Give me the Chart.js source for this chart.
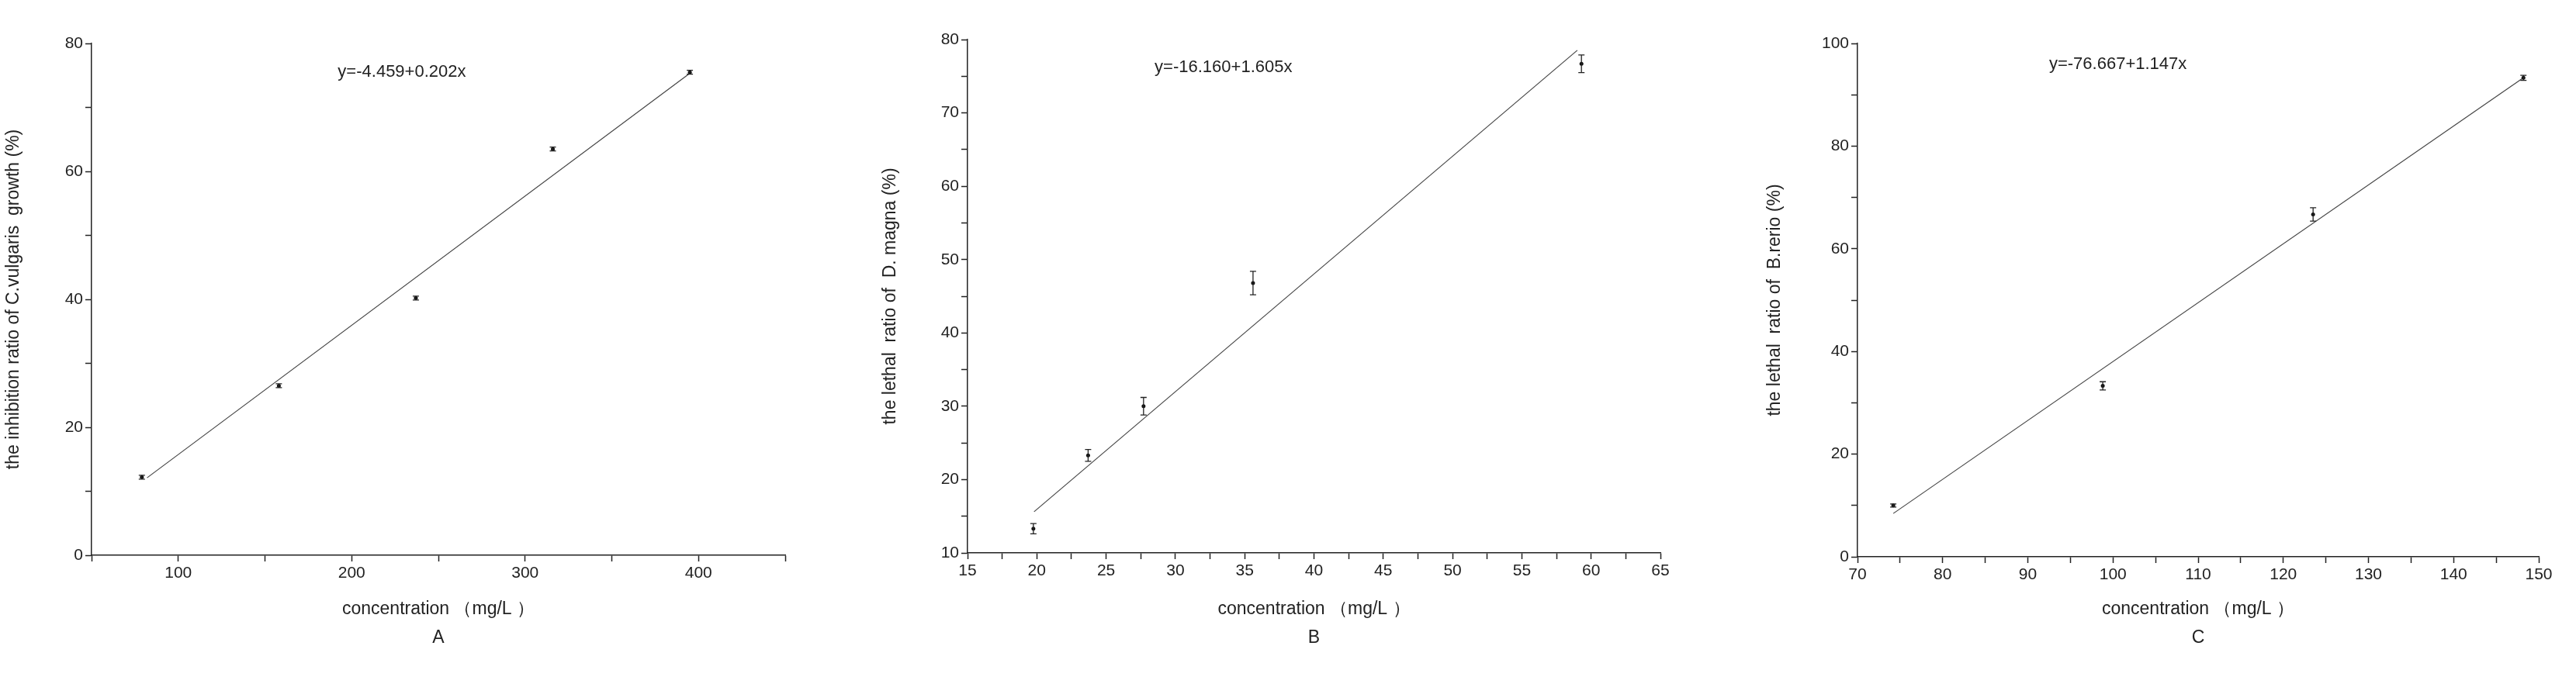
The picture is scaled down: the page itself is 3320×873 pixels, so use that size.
<!DOCTYPE html>
<html>
<head>
<meta charset="utf-8">
<script src="https://cdn.jsdelivr.net/npm/chart.js@4.4.1/dist/chart.umd.min.js"></script>
<style>
  body { margin: 0; background: #fff; width: 3320px; height: 873px; position: relative; overflow: hidden; }
  .panel { position: absolute; top: 0; height: 873px; }
</style>
</head>
<body>
<div class="panel" style="left:0;width:1030px"><canvas id="chartA"></canvas></div>
<div class="panel" style="left:1130px;width:1030px"><canvas id="chartB"></canvas></div>
<div class="panel" style="left:2270px;width:1030px"><canvas id="chartC"></canvas></div>
<script>
// ---------- DATA ----------
const concA  = [79, 158, 237, 316, 395];
const valueA = [12.2, 26.5, 40.2, 63.5, 75.5];
const errA   = [0.3, 0.3, 0.3, 0.3, 0.3];
const fitA   = { a: -4.459, b: 0.202, from: 82, to: 395 };
const eqA    = 'y=-4.459+0.202x';

const concB  = [19.75, 23.7, 27.7, 35.6, 59.3];
const valueB = [13.3, 23.3, 30.0, 46.8, 76.7];
const errB   = [0.7, 0.8, 1.2, 1.6, 1.2];
const fitB   = { a: -16.160, b: 1.605, from: 19.8, to: 59.0 };
const eqB    = 'y=-16.160+1.605x';

const concC  = [74.2, 98.8, 123.5, 148.2];
const valueC = [10.0, 33.3, 66.7, 93.3];
const errC   = [0.3, 0.8, 1.3, 0.5];
const fitC   = { a: -76.667, b: 1.147, from: 74.2, to: 148.2 };
const eqC    = 'y=-76.667+1.147x';

const FONT = 'Arial, "Liberation Sans", sans-serif';

// ---------- PLUGINS ----------
const errorBars = {
    id: 'errorBars',
    afterDatasetsDraw(chart, args, opts) {
        const { ctx, scales: { x, y } } = chart;
        const pts = chart.data.datasets[0].data;
        ctx.save();
        ctx.strokeStyle = '#222';
        ctx.lineWidth = 1.3;
        pts.forEach((p, i) => {
            const e = opts.errors[i];
            const px = x.getPixelForValue(p.x);
            const top = y.getPixelForValue(p.y + e);
            const bot = y.getPixelForValue(p.y - e);
            ctx.beginPath();
            ctx.moveTo(px, top); ctx.lineTo(px, bot);
            ctx.moveTo(px - 4, top); ctx.lineTo(px + 4, top);
            ctx.moveTo(px - 4, bot); ctx.lineTo(px + 4, bot);
            ctx.stroke();
        });
        ctx.restore();
    }
};

const equationLabel = {
    id: 'equationLabel',
    afterDraw(chart, args, opts) {
        const { ctx, scales: { x, y } } = chart;
        ctx.save();
        ctx.fillStyle = '#222';
        ctx.font = '22px ' + FONT;
        ctx.textAlign = 'left';
        ctx.textBaseline = 'middle';
        ctx.fillText(opts.text, x.getPixelForValue(opts.x), y.getPixelForValue(opts.y));
        ctx.restore();
    }
};

// ---------- BUILDER ----------
function makeChart(id, conc, values, errs, fit, eq, cfg) {
    const pts = conc.map((c, i) => ({ x: c, y: values[i] }));
    const line = [
        { x: fit.from, y: fit.a + fit.b * fit.from },
        { x: fit.to,   y: fit.a + fit.b * fit.to }
    ];
    const axisCommon = {
        border: { color: '#222', width: 1.5 },
        grid: { drawOnChartArea: false, color: '#222', tickLength: 8, tickWidth: 1.5 },
    };
    return new Chart(document.getElementById(id), {
        type: 'scatter',
        data: {
            datasets: [
                { data: pts, pointRadius: 2.5, pointBackgroundColor: '#111', pointBorderWidth: 0 },
                { data: line, type: 'line', showLine: true, borderColor: '#444', borderWidth: 1.2, pointRadius: 0 }
            ]
        },
        options: {
            responsive: true,
            maintainAspectRatio: false,
            animation: false,
            layout: { padding: { top: cfg.top, right: cfg.right, left: 0, bottom: 28 } },
            plugins: {
                legend: { display: false },
                tooltip: { enabled: false },
                errorBars: { errors: errs },
                equationLabel: { text: eq, x: cfg.eqX, y: cfg.eqY }
            },
            scales: {
                x: {
                    ...axisCommon,
                    type: 'linear', min: cfg.xMin, max: cfg.xMax,
                    ticks: {
                        stepSize: cfg.xStep, color: '#222', font: { size: 21, family: FONT },
                        callback: v => (Math.round(v / cfg.xStep) % 2 !== 0) ? '' : v
                    },
                    title: {
                        display: true, text: ['concentration （mg/L ）', cfg.letter],
                        color: '#222', font: { size: 23, family: FONT, lineHeight: 1.6 }
                    },
                    afterFit: s => { s.height = cfg.xHeight - 28; }
                },
                y: {
                    ...axisCommon,
                    min: cfg.yMin, max: cfg.yMax,
                    ticks: {
                        stepSize: cfg.yStep, color: '#222', font: { size: 21, family: FONT },
                        callback: v => (Math.round(v / cfg.yStep) % 2 !== 0) ? '' : v
                    },
                    title: {
                        display: true, text: cfg.yTitle,
                        color: '#222', font: { size: 23, family: FONT }, padding: { bottom: 8 }
                    },
                    afterFit: s => { s.width = cfg.yWidth; }
                }
            }
        },
        plugins: [errorBars, equationLabel]
    });
}

makeChart('chartA', concA, valueA, errA, fitA, eqA, {
    xMin: 50, xMax: 450, xStep: 50,
    yMin: 0, yMax: 80, yStep: 10,
    yTitle: 'the inhibition ratio of C.vulgaris  growth (%)', letter: 'A',
    eqX: 192, eqY: 75.5, top: 56, right: 18, yWidth: 118, xHeight: 157
});
makeChart('chartB', concB, valueB, errB, fitB, eqB, {
    xMin: 15, xMax: 65, xStep: 2.5,
    yMin: 10, yMax: 80, yStep: 5,
    yTitle: 'the lethal  ratio of  D. magna (%)', letter: 'B',
    eqX: 28.5, eqY: 76.2, top: 51, right: 20, yWidth: 117, xHeight: 160
});
makeChart('chartC', concC, valueC, errC, fitC, eqC, {
    xMin: 70, xMax: 150, xStep: 5,
    yMin: 0, yMax: 100, yStep: 10,
    yTitle: 'the lethal  ratio of  B.rerio (%)', letter: 'C',
    eqX: 92.5, eqY: 96, top: 56, right: 28, yWidth: 124, xHeight: 155
});
</script>
</body>
</html>
